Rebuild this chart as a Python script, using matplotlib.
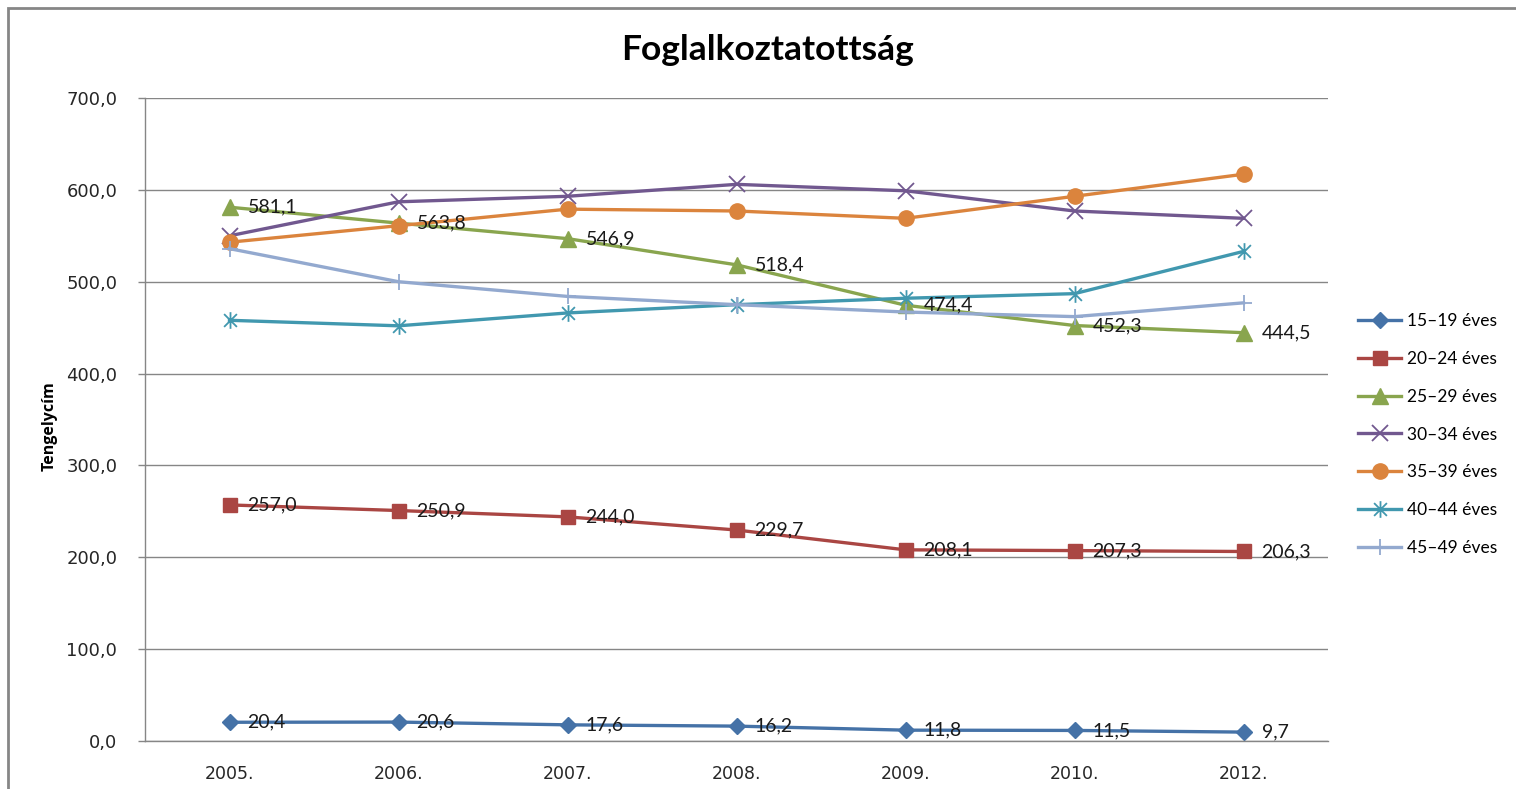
import matplotlib
matplotlib.use("Agg")
import matplotlib.pyplot as plt
import matplotlib.patches as patches
from matplotlib.path import Path

# data
years = ["2005.", "2006.", "2007.", "2008.", "2009.", "2010.", "2012."]
labels = ["15–19 éves", "20–24 éves", "25–29 éves", "30–34 éves",
          "35–39 éves", "40–44 éves", "45–49 éves"]
age_15_19 = [20.4, 20.6, 17.6, 16.2, 11.8, 11.5, 9.7]
age_20_24 = [257.0, 250.9, 244.0, 229.7, 208.1, 207.3, 206.3]
age_25_29 = [581.1, 563.8, 546.9, 518.4, 474.4, 452.3, 444.5]
age_30_34 = [550, 587, 593, 606, 599, 577, 569]
age_35_39 = [543, 561, 579, 577, 569, 593, 617]
age_40_44 = [458, 452, 466, 475, 482, 487, 533]
age_45_49 = [536, 500, 484, 475, 467, 462, 477]

series = [age_15_19, age_20_24, age_25_29, age_30_34, age_35_39, age_40_44, age_45_49]
show_labels = [True, True, True, False, False, False, False]

colors = ["#4572A7", "#AA4643", "#89A54E", "#71588F", "#DB843D", "#4198AF", "#93A9CF"]

# excel-like star: x plus vertical bar
star = Path([(-1, -1), (1, 1), (-1, 1), (1, -1), (0, -1.3), (0, 1.3)],
            [Path.MOVETO, Path.LINETO, Path.MOVETO, Path.LINETO, Path.MOVETO, Path.LINETO])
markers = ["D", "s", "^", "x", "o", star, "+"]
msizes = [8, 10, 11, 11, 11, 12, 11]
mew = [1, 1, 1, 1.3, 1, 1.3, 1.3]

fig = plt.figure(figsize=(15.16, 7.89), dpi=100)
ax = fig.add_axes([145 / 1516, 48 / 789, 1183 / 1516, 643 / 789])

x = list(range(len(years)))
for vals, lab, c, m, ms, w in zip(series, labels, colors, markers, msizes, mew):
    ax.plot(x, vals, color=c, lw=2.4, marker=m, ms=ms, mew=w,
            mfc=c, mec=c, label=lab, solid_joinstyle="round")

for vals, show in zip(series, show_labels):
    if not show:
        continue
    for xi, v in zip(x, vals):
        ax.annotate(f"{v:.1f}".replace(".", ","), (xi, v), xytext=(13, 0),
                    textcoords="offset points", va="center", ha="left",
                    fontsize=14, family="Lato", color="#1a1a1a", zorder=10)

ax.set_xlim(-0.5, 6.5)
ax.set_ylim(0, 700)
ax.set_xticks(x)
ax.set_xticklabels(years)
ax.set_yticks(range(0, 701, 100))
ax.set_yticklabels([f"{t},0" for t in range(0, 701, 100)])
ax.tick_params(axis="x", length=0, pad=17, labelsize=12.5, colors="#262626")
ax.tick_params(axis="y", length=5, width=1, color="#868686", pad=15,
               labelsize=13, labelcolor="#262626")
ax.grid(axis="y", color="#868686", lw=1)
ax.set_axisbelow(True)
for s in ["top", "right"]:
    ax.spines[s].set_visible(False)
for s in ["left", "bottom"]:
    ax.spines[s].set_color("#868686")
    ax.spines[s].set_linewidth(1)

ax.set_ylabel("Tengelycím", fontsize=11.5, fontweight="bold", family="Open Sans")
ax.yaxis.set_label_coords(-0.074, 0.49)

fig.text(768 / 1516, 1 - 50 / 789, "Foglalkoztatottság", ha="center", va="center",
         fontsize=25.5, fontweight="bold", family="Lato")

ax.legend(loc="center left", bbox_to_anchor=(1358 / 1516, 1 - 434.5 / 789),
          bbox_transform=fig.transFigure, frameon=False, borderpad=0,
          borderaxespad=0, handlelength=2.5, handletextpad=0.35,
          labelspacing=1.25, prop={"family": "Lato", "size": 12.5})

frame = patches.Rectangle((8 / 1516, -0.05), 1.1, 1 - 8 / 789 + 0.05,
                          transform=fig.transFigure, fill=False,
                          edgecolor="#868686", lw=2, clip_on=False)
fig.patches.append(frame)

fig.savefig("out.png", dpi=100)
